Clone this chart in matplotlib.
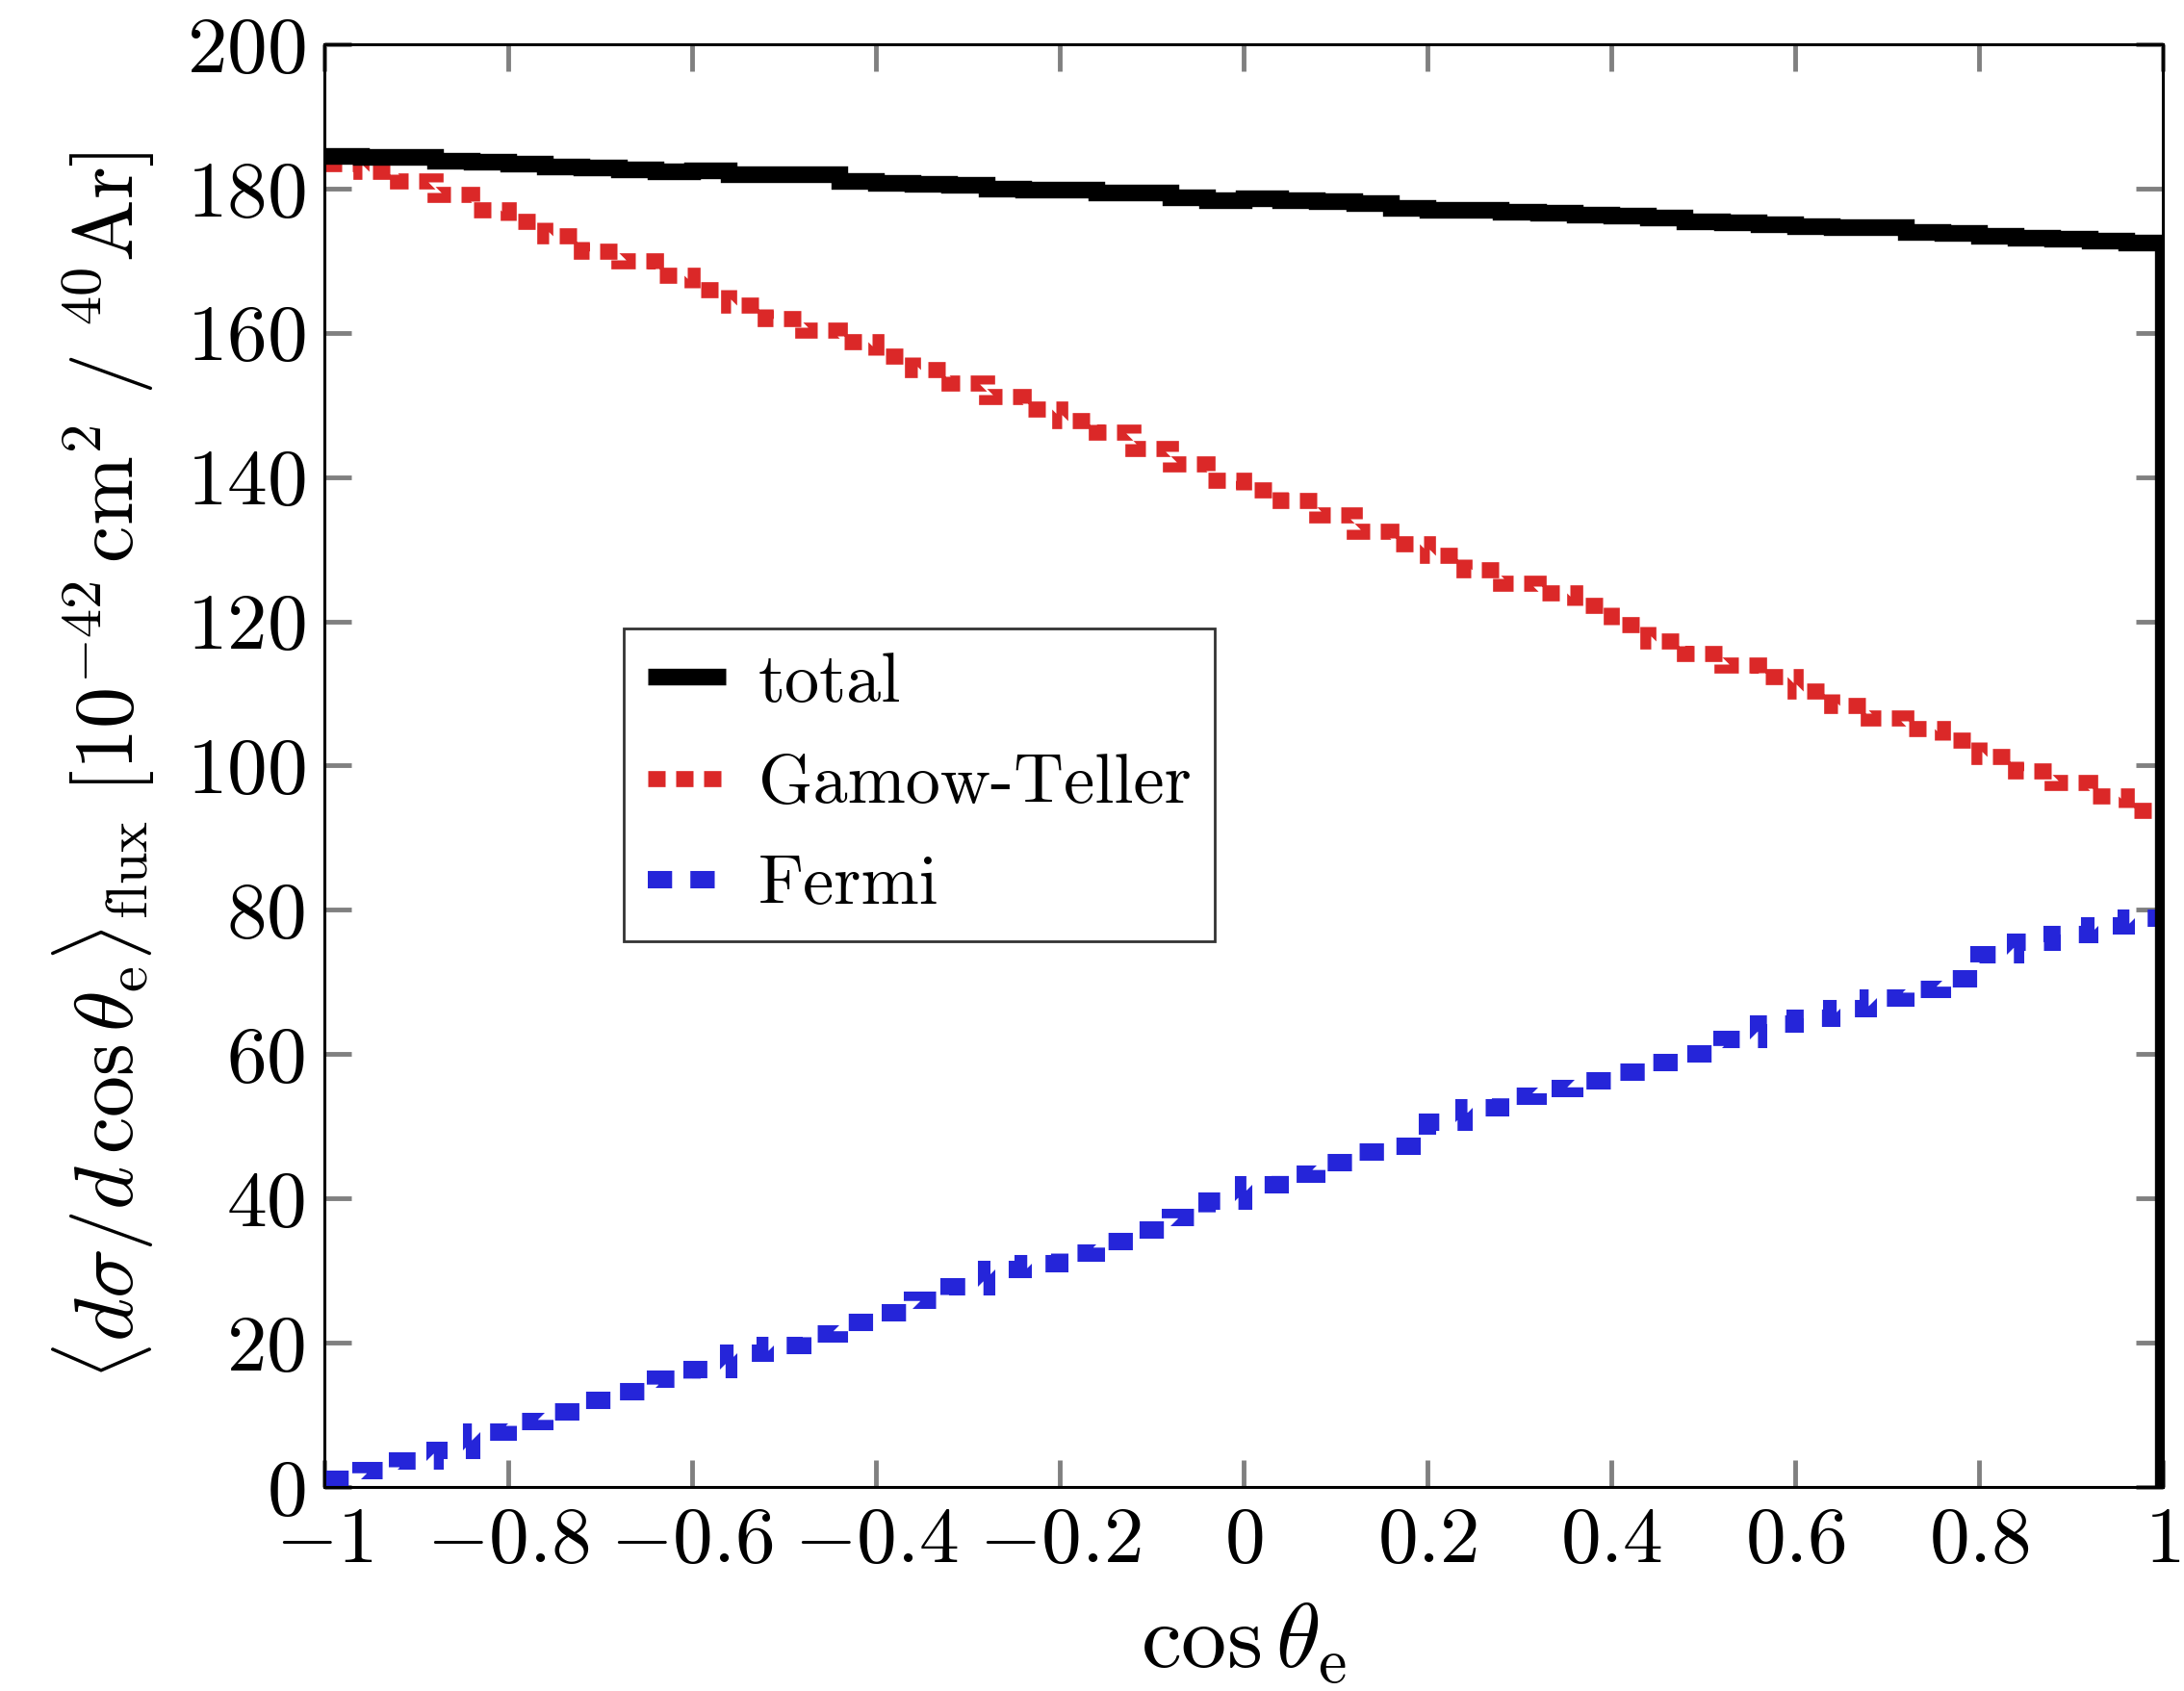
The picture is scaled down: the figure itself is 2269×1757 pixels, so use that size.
import numpy as np
import matplotlib
matplotlib.use('Agg')
import matplotlib.pyplot as plt
from matplotlib.ticker import FixedLocator, FuncFormatter

plt.rcParams['font.family'] = 'serif'
plt.rcParams['font.serif'] = ['cmr10']
plt.rcParams['mathtext.fontset'] = 'cm'
plt.rcParams['axes.unicode_minus'] = False

# 50 bins in cos(theta_e), width 0.04
edges = np.linspace(-1.0, 1.0, 51)

total = [184.5, 184.4, 184.4, 183.9, 183.7, 183.4, 183.1, 182.9, 182.6, 182.4,
         182.5, 182.0, 182.0, 182.0, 181.1, 180.8, 180.6, 180.5, 180.0, 179.9,
         179.8, 179.5, 179.5, 178.8, 178.4, 178.6, 178.4, 178.2, 178.0, 177.3,
         177.0, 177.1, 176.8, 176.7, 176.4, 176.3, 176.0, 175.5, 175.3, 175.0,
         174.8, 174.7, 174.6, 174.0, 173.8, 173.5, 173.2, 173.0, 172.8, 172.5]

gamow_teller = [183.5, 182.4, 181.0, 179.2, 177.0, 175.5, 173.4, 171.3, 170.0, 168.0,
                166.0, 163.8, 162.0, 160.4, 158.8, 156.8, 154.9, 153.0, 151.2, 149.5,
                147.8, 146.2, 144.0, 141.8, 139.6, 138.2, 136.8, 134.8, 132.5, 130.8,
                129.2, 127.2, 125.3, 124.0, 122.2, 119.6, 117.3, 115.5, 114.0, 112.3,
                110.3, 108.3, 106.6, 105.2, 103.5, 101.2, 99.3, 97.6, 95.8, 93.8]

fermi = [1.0, 2.3, 3.6, 5.0, 7.6, 9.0, 10.4, 12.0, 13.2, 14.9,
         16.3, 18.6, 19.6, 21.2, 22.8, 24.1, 25.9, 27.8, 30.2, 31.0,
         32.4, 34.0, 35.6, 37.3, 39.6, 41.9, 43.4, 44.9, 46.4, 47.2,
         50.6, 52.6, 54.1, 55.2, 56.3, 57.5, 58.8, 60.0, 62.0, 64.2,
         65.0, 66.3, 67.8, 69.0, 70.5, 73.8, 75.5, 76.6, 77.8, 78.8]

xticks = [-1, -0.8, -0.6, -0.4, -0.2, 0, 0.2, 0.4, 0.6, 0.8, 1]
yticks = [0, 20, 40, 60, 80, 100, 120, 140, 160, 180, 200]


def step_xy(edges, vals, drop=False):
    x = np.repeat(edges, 2)[1:-1]
    y = np.repeat(np.asarray(vals, dtype=float), 2)
    if drop:
        x = np.append(x, edges[-1])
        y = np.append(y, 0.0)
    return x, y


fig = plt.figure(figsize=(22.69, 17.57), dpi=100)
ax = fig.add_axes([0.1485, 0.1207, 0.8418, 0.8531])

x, y = step_xy(edges, gamow_teller)
l_gt, = ax.plot(x, y, color='#db2828', lw=12, dashes=(1.08, 0.66),
                dash_capstyle='butt', dash_joinstyle='miter', zorder=2)
x, y = step_xy(edges, fermi)
l_f, = ax.plot(x, y, color='#2525d9', lw=13, dashes=(1.4, 1.05),
               dash_capstyle='butt', dash_joinstyle='miter', zorder=2)
x, y = step_xy(edges, total, drop=True)
l_tot, = ax.plot(x, y, color='black', lw=12.5, solid_capstyle='butt',
                 solid_joinstyle='miter', zorder=3)

ax.set_xlim(-1, 1)
ax.set_ylim(0, 200)
ax.xaxis.set_major_locator(FixedLocator(xticks))
ax.yaxis.set_major_locator(FixedLocator(yticks))
fmt = FuncFormatter(lambda v, p: '$%g$' % v)
ax.xaxis.set_major_formatter(fmt)
ax.yaxis.set_major_formatter(fmt)
ax.tick_params(which='major', direction='in', top=True, right=True,
               length=20, width=3.5, color='#808080', labelsize=60)
ax.tick_params(axis='x', pad=15)
ax.tick_params(axis='y', pad=14)
for s in ax.spines.values():
    s.set_linewidth(2.2)

ax.set_xlabel(r'$\cos\theta_{\mathrm{e}}$', fontsize=68, labelpad=18)
ax.set_ylabel(r'$\langle d\sigma/d\,\cos\theta_{\mathrm{e}}\rangle_{\mathrm{flux}}\ '
              r'[10^{-42}\,\mathrm{cm}^2\ /\ {}^{40}\mathrm{Ar}]$',
              fontsize=62, labelpad=22)

leg = ax.legend([l_tot, l_gt, l_f], ['total', 'Gamow-Teller', 'Fermi'],
                loc='upper left', bbox_to_anchor=(0.163, 0.595),
                borderaxespad=0, fontsize=52, frameon=True, fancybox=False,
                framealpha=1, edgecolor='#333333', handlelength=1.12,
                handletextpad=0.47, labelspacing=0.56, borderpad=0.34)
leg.get_frame().set_linewidth(2)

fig.savefig('out.png', dpi=100)
